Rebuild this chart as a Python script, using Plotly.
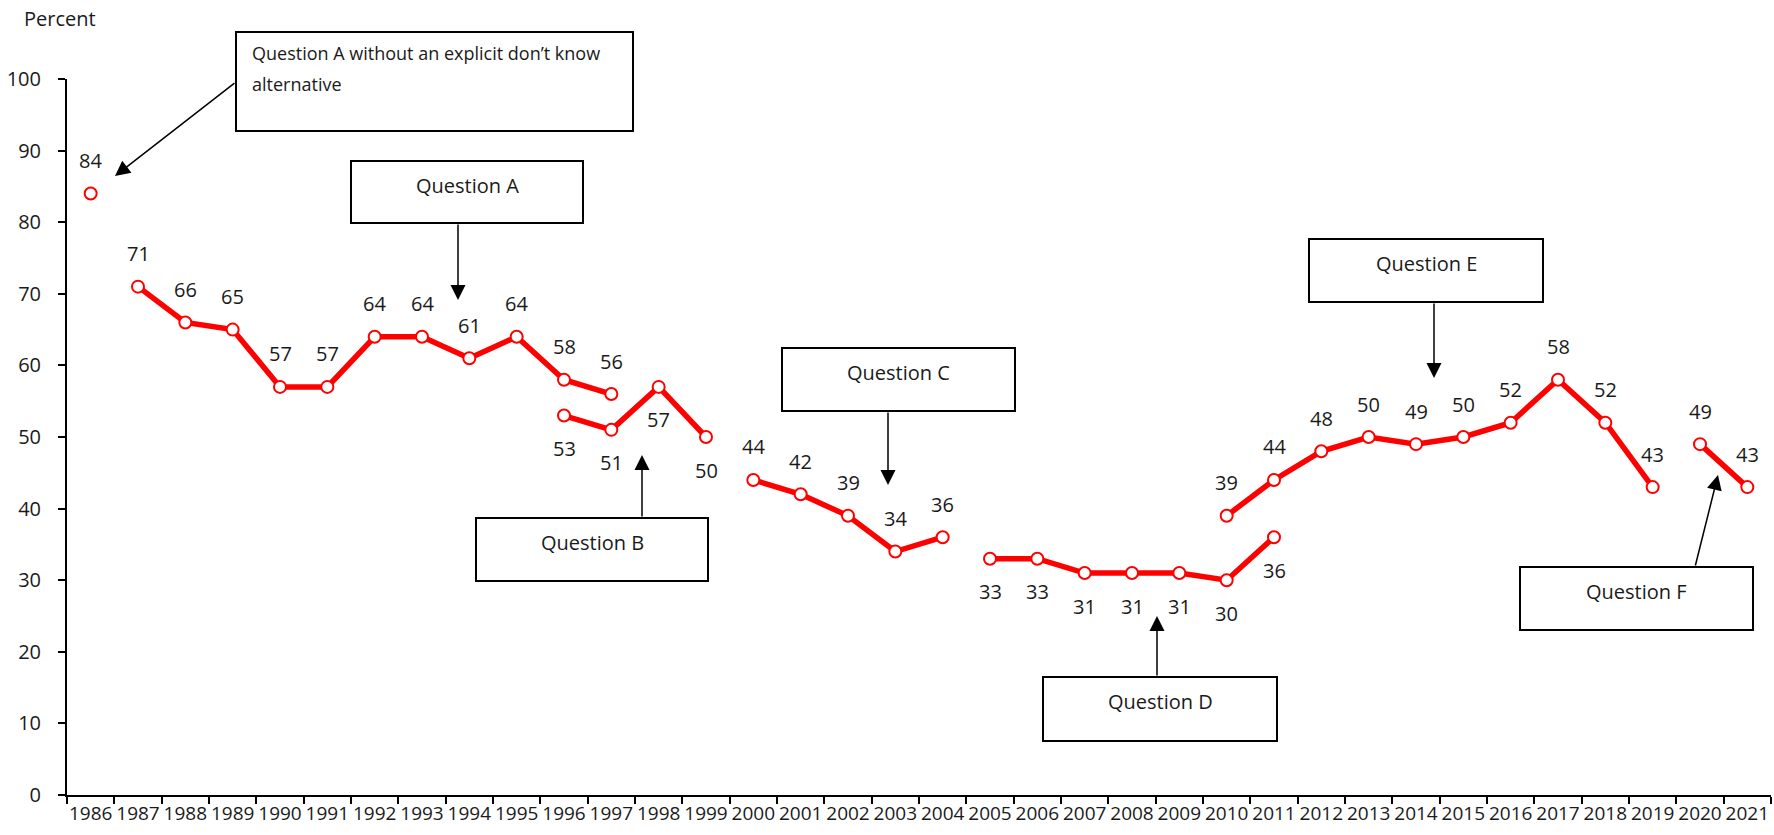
import plotly.graph_objects as go

# categories
years = [str(y) for y in range(1986, 2022)]

# series
qa_nodk_years = ["1986"]
qa_nodk = [84]
qa_years = ["1987", "1988", "1989", "1990", "1991", "1992", "1993", "1994", "1995", "1996", "1997"]
qa = [71, 66, 65, 57, 57, 64, 64, 61, 64, 58, 56]
qb_years = ["1996", "1997", "1998", "1999"]
qb = [53, 51, 57, 50]
qc_years = ["2000", "2001", "2002", "2003", "2004"]
qc = [44, 42, 39, 34, 36]
qd_years = ["2005", "2006", "2007", "2008", "2009", "2010", "2011"]
qd = [33, 33, 31, 31, 31, 30, 36]
qe_years = ["2010", "2011", "2012", "2013", "2014", "2015", "2016", "2017", "2018", "2019"]
qe = [39, 44, 48, 50, 49, 50, 52, 58, 52, 43]
qf_years = ["2020", "2021"]
qf = [49, 43]

FONT = "Open Sans"
FS = 20
RED = "#ff0000"
INK = "#1a1a1a"

# plot area in pixels, used to place the boxes/arrows
L, R, T, B = 67, 1771, 79, 795


def px(x):
    return (x - L) / (R - L)


def py(y):
    return (B - y) / (B - T)


fig = go.Figure()

series = [
    (qa_nodk_years, qa_nodk, "markers", 1),
    (qa_years, qa, "lines+markers", 1),
    (qb_years, qb, "lines+markers", -1),
    (qc_years, qc, "lines+markers", 1),
    (qd_years, qd, "lines+markers", -1),
    (qe_years, qe, "lines+markers", 1),
    (qf_years, qf, "lines+markers", 1),
]

annotations = []
for xs, ys, mode, side in series:
    fig.add_trace(go.Scatter(
        x=xs, y=ys, mode=mode,
        line=dict(color=RED, width=5.5),
        marker=dict(size=12, color="white", line=dict(color=RED, width=2)),
        showlegend=False, hoverinfo="x+y",
    ))
    for x, y in zip(xs, ys):
        # category axis: position annotation by category index
        annotations.append(dict(
            x=years.index(x), y=y, xref="x", yref="y", text=str(y), showarrow=False,
            yshift=33 * side, font=dict(family=FONT, size=FS, color=INK),
        ))

# boxes: (left, top, right, bottom, text)
boxes = [
    (351, 161, 583, 223, "Question A"),
    (476, 518, 708, 581, "Question B"),
    (782, 348, 1015, 411, "Question C"),
    (1043, 677, 1277, 741, "Question D"),
    (1309, 239, 1543, 302, "Question E"),
    (1520, 567, 1753, 630, "Question F"),
]
shapes = []
for x0, y0, x1, y1, txt in boxes:
    shapes.append(dict(type="rect", xref="paper", yref="paper",
                       x0=px(x0), x1=px(x1), y0=py(y1), y1=py(y0),
                       line=dict(color="black", width=2), fillcolor="white", layer="above"))
    annotations.append(dict(xref="paper", yref="paper", x=px((x0 + x1) / 2), y=py(y0 + 24),
                            text=txt, showarrow=False, xanchor="center", yanchor="middle",
                            font=dict(family=FONT, size=FS, color=INK)))

# wide box
shapes.append(dict(type="rect", xref="paper", yref="paper",
                   x0=px(236), x1=px(633), y0=py(131), y1=py(32),
                   line=dict(color="black", width=2), fillcolor="white", layer="above"))
for line_txt, line_y in [("Question A without an explicit don’t know", 53), ("alternative", 84)]:
    annotations.append(dict(xref="paper", yref="paper", x=px(250), y=py(line_y),
                            text=line_txt, showarrow=False, xanchor="left", yanchor="middle",
                            font=dict(family=FONT, size=18, color=INK)))

# arrows: (tail x, tail y, tip x, tip y)
arrows = [
    (236, 82, 115, 176),
    (458, 223, 458, 300),
    (642, 518, 642, 455),
    (888, 411, 888, 485),
    (1157, 677, 1157, 616),
    (1434, 302, 1434, 378),
    (1695, 567, 1718, 475),
]
for tx, ty, hx, hy in arrows:
    annotations.append(dict(xref="paper", yref="paper", x=px(hx), y=py(hy),
                            ax=tx - hx, ay=ty - hy, text="", showarrow=True,
                            arrowhead=2, arrowsize=2, arrowwidth=1.5, arrowcolor="black",
                            standoff=0, startstandoff=0))

annotations.append(dict(xref="paper", yref="paper", x=px(22), y=py(19), text="Percent",
                        showarrow=False, xanchor="left", yanchor="middle",
                        font=dict(family=FONT, size=FS, color=INK)))

fig.update_xaxes(
    type="category", categoryorder="array", categoryarray=years, range=[-0.5, len(years) - 0.5],
    tickson="boundaries", ticks="outside", ticklen=7, tickwidth=2, tickcolor="black",
    showline=True, linecolor="black", linewidth=2, showgrid=False, tickangle=0,
    tickfont=dict(family=FONT, size=19, color=INK), ticklabelstandoff=0,
)
fig.update_yaxes(
    range=[0, 100], dtick=10, ticks="outside", ticklen=7, tickwidth=2, tickcolor="black",
    showline=True, linecolor="black", linewidth=2, showgrid=False, zeroline=False,
    tickfont=dict(family=FONT, size=FS, color=INK), ticklabelstandoff=13,
)
fig.update_layout(
    width=1774, height=835,
    margin=dict(l=L, r=1774 - R, t=T, b=835 - B),
    plot_bgcolor="white", paper_bgcolor="white",
    shapes=shapes, annotations=annotations,
    font=dict(family=FONT, size=FS, color=INK),
)

# drop the browser's default 8px body margin so the figure sits at the page origin
fig.write_html("out.html", config={"displayModeBar": False},
               post_script="document.body.style.margin='0';")
